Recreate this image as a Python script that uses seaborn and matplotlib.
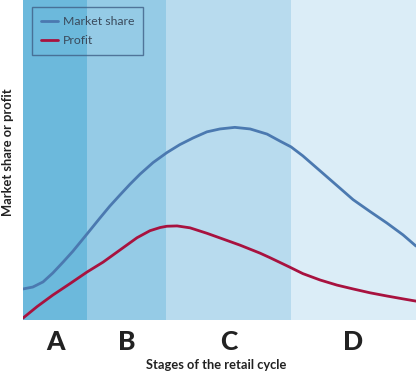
import numpy as np
import pandas as pd
import matplotlib
matplotlib.use("Agg")
import matplotlib.pyplot as plt
import seaborn as sns

# ---- data (x = position along the cycle 0-100, y = level 0-100)
stages = ["A", "B", "C", "D"]
stage_edges = [0, 16.3, 36.4, 68.2, 100]
stage_colors = ["#6cb9dc", "#95cbe6", "#b8dbee", "#dbedf7"]

share_x = [0, 2.5, 5.1, 7.6, 10.2, 12.7, 16.3, 19.6, 22.1, 24.7, 27.2, 29.8, 33.1,
           36.6, 39.9, 43.3, 46.8, 50.1, 53.9, 57.8, 62.1, 65.4, 68.2, 71.2, 75.6,
           79.9, 84.0, 88.3, 92.6, 96.7, 100]
share_y = [9.7, 10.3, 11.9, 14.7, 18.1, 21.5, 26.9, 31.9, 35.6, 39.1, 42.4, 45.6, 49.2,
           52.3, 54.8, 56.9, 58.8, 59.7, 60.2, 59.7, 58.1, 55.9, 54.1, 51.3, 46.6,
           42.0, 37.6, 33.9, 30.3, 26.6, 23.1]

profit_x = [0, 3.6, 7.6, 12.0, 16.3, 20.4, 24.7, 29.0, 32.3, 34.9, 36.6, 39.2, 42.5,
            46.8, 50.9, 55.2, 60.3, 62.8, 67.9, 71.2, 75.6, 79.9, 84.0, 88.3, 92.6,
            96.7, 100]
profit_y = [0.6, 4.2, 7.8, 11.4, 15.0, 18.1, 21.9, 25.7, 27.9, 28.9, 29.3, 29.4, 28.8,
            27.1, 25.3, 23.4, 20.9, 19.5, 16.5, 14.5, 12.5, 10.9, 9.7, 8.5, 7.5,
            6.6, 5.9]

series_names = ["Market share", "Profit"]
series_colors = ["#4b79b0", "#a8123f"]

df = pd.concat([
    pd.DataFrame({"x": share_x, "y": share_y, "series": series_names[0]}),
    pd.DataFrame({"x": profit_x, "y": profit_y, "series": series_names[1]}),
], ignore_index=True)

sns.set_style("white")
plt.rcParams["font.family"] = ["Lato", "DejaVu Sans"]

fig = plt.figure(figsize=(4.17, 3.73), dpi=100)
ax = fig.add_axes([23 / 417, (373 - 320) / 373, 393 / 417, 320 / 373])

for i in range(len(stages)):
    ax.axvspan(stage_edges[i], stage_edges[i + 1], color=stage_colors[i], lw=0, zorder=0)

sns.lineplot(data=df, x="x", y="y", hue="series", palette=series_colors,
             hue_order=series_names, linewidth=2.0, ax=ax, sort=False, estimator=None)
for ln in ax.get_lines():
    ln.set_solid_joinstyle("round")
    ln.set_solid_capstyle("round")

ax.set_xlim(0, 100)
ax.set_ylim(0, 100)
centers = [(stage_edges[i] + stage_edges[i + 1]) / 2 for i in range(len(stages))]
ax.set_xticks(centers)
ax.set_xticklabels(stages, fontsize=19, fontweight="black", color="#222222")
ax.tick_params(axis="x", length=0, pad=7)
ax.set_yticks([])
for s in ax.spines.values():
    s.set_visible(False)

ax.set_xlabel("Stages of the retail cycle", fontsize=9.3, fontweight="bold",
              color="#222222")
ax.xaxis.set_label_coords(0.491, -0.122)
ax.set_ylabel("Market share or profit", fontsize=9.3, fontweight="bold",
              color="#222222")
ax.yaxis.set_label_coords(-0.024, 0.525)

leg = ax.legend(loc="upper left", bbox_to_anchor=(9 / 393, 1 - 7 / 320), frameon=True,
                borderaxespad=0, fancybox=False, fontsize=8.8, handlelength=1.4,
                handletextpad=0.35, borderpad=0.75, labelspacing=0.65, title=None)
leg.get_frame().set_edgecolor("#3f5f86")
leg.get_frame().set_facecolor("none")
leg.get_frame().set_linewidth(1.0)
for t in leg.get_texts():
    t.set_color("#3a4a5c")

fig.savefig("out.png", dpi=100)
